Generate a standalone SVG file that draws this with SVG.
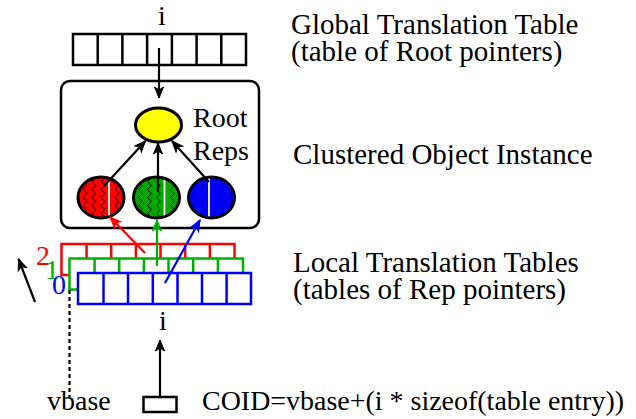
<svg xmlns="http://www.w3.org/2000/svg" width="636" height="419" viewBox="0 0 636 419">
<style>
text{font-family:"Liberation Serif","Times New Roman",serif;font-size:28px}
.lbl{font-size:29px}
.tbl{fill:#fff;stroke-width:2.5}
.k{stroke:#000}
.r{stroke:#ff0000}
.g{stroke:#00b000}
.b{stroke:#0000ff}
.div{stroke-width:2.5}
.ln{stroke-width:2.2;fill:none}
.node{stroke:#000;stroke-width:3}
.wl{stroke:#fff;stroke-width:1.8}
</style>
<defs>
<marker id="ak" markerUnits="userSpaceOnUse" markerWidth="14" markerHeight="12" viewBox="-12 -6 14 12" refX="0" refY="0" orient="auto"><path d="M0,0 L-11,-4.5 L-8,0 L-11,4.5 Z" fill="#000" stroke="#000" stroke-width="1"/></marker>
<marker id="ar" markerUnits="userSpaceOnUse" markerWidth="14" markerHeight="12" viewBox="-12 -6 14 12" refX="0" refY="0" orient="auto"><path d="M0,0 L-11,-4.5 L-8,0 L-11,4.5 Z" fill="#ff0000" stroke="#ff0000" stroke-width="1"/></marker>
<marker id="ag" markerUnits="userSpaceOnUse" markerWidth="14" markerHeight="12" viewBox="-12 -6 14 12" refX="0" refY="0" orient="auto"><path d="M0,0 L-11,-4.5 L-8,0 L-11,4.5 Z" fill="#00b000" stroke="#00b000" stroke-width="1"/></marker>
<marker id="ab" markerUnits="userSpaceOnUse" markerWidth="14" markerHeight="12" viewBox="-12 -6 14 12" refX="0" refY="0" orient="auto"><path d="M0,0 L-11,-4.5 L-8,0 L-11,4.5 Z" fill="#0000ff" stroke="#0000ff" stroke-width="1"/></marker>
<clipPath id="ec"><ellipse cx="0" cy="0" rx="23" ry="20"/></clipPath>
<path id="zig" fill="none" stroke="#000" stroke-width="0.9" d="M-1.8,-24 l3.6,4 l-3.6,4 l3.6,4 l-3.6,4 l3.6,4 l-3.6,4 l3.6,4 l-3.6,4 l3.6,4 l-3.6,4 l3.6,4 l-3.6,4"/>
</defs>

<g id="global-table">
<text x="162" y="25" text-anchor="middle">i</text>
<rect class="tbl k" x="73" y="34" width="173" height="31"/>
<path class="k div" d="M97.7,34V65M122.4,34V65M147.1,34V65M171.9,34V65M196.6,34V65M221.3,34V65"/>
</g>

<g id="clustered-object">
<rect x="61" y="81" width="198" height="147" rx="9" fill="#fff" stroke="#000" stroke-width="2.5"/>
</g>

<g id="root-rep">
<ellipse class="node" cx="158.5" cy="125" rx="23" ry="17" fill="#ffff00"/>
<text x="193" y="127">Root</text>
<text x="193" y="160">Reps</text>
</g>

<g id="rep-red" transform="translate(101,197.5)">
<ellipse cx="0" cy="0" rx="23" ry="20.5" fill="#ff0000"/>
<g clip-path="url(#ec)">
<use href="#zig" x="-16"/><use href="#zig" x="-7"/><use href="#zig" x="2"/><use href="#zig" x="16"/>
<line class="wl" x1="8" y1="-22" x2="8" y2="22"/>
</g>
<ellipse class="node" cx="0" cy="0" rx="23" ry="20.5" fill="none"/>
</g>

<g id="rep-green" transform="translate(156.5,197.5)">
<ellipse cx="0" cy="0" rx="23" ry="20.5" fill="#00a800"/>
<g clip-path="url(#ec)">
<use href="#zig" x="-16"/><use href="#zig" x="-7"/><use href="#zig" x="2"/><use href="#zig" x="16"/>
<line class="wl" x1="8" y1="-22" x2="8" y2="22"/>
</g>
<ellipse class="node" cx="0" cy="0" rx="23" ry="20.5" fill="none"/>
</g>

<g id="rep-blue" transform="translate(211.5,197.5)">
<ellipse cx="0" cy="0" rx="23" ry="20.5" fill="#0000ff"/>
<g clip-path="url(#ec)">
<use href="#zig" x="-17"/><use href="#zig" x="-9"/><use href="#zig" x="3"/><use href="#zig" x="11"/><use href="#zig" x="19"/>
<line class="wl" x1="-2.5" y1="-22" x2="-2.5" y2="22"/>
</g>
<ellipse class="node" cx="0" cy="0" rx="23" ry="20.5" fill="none"/>
</g>

<g id="local-table-2">
<rect class="tbl r" x="61.5" y="244" width="173" height="31"/>
<path class="r div" d="M86.6,244V275M111.2,244V275M135.9,244V275M160.5,244V275M185.2,244V275M209.9,244V275"/>
<text x="36" y="265" fill="#ff0000">2</text>
</g>

<g id="local-table-1">
<rect class="tbl g" x="69.5" y="258.5" width="173.5" height="31"/>
<path class="g div" d="M94.6,258.5V289.5M119.2,258.5V289.5M143.9,258.5V289.5M168.5,258.5V289.5M193.2,258.5V289.5M217.9,258.5V289.5"/>
<text x="45" y="279" fill="#00b000">1</text>
</g>

<g id="local-table-0">
<rect class="tbl b" x="78" y="273" width="173" height="31"/>
<path class="b div" d="M103.5,273V304M128,273V304M152.8,273V304M177.5,273V304M202,273V304M226.6,273V304"/>
<text x="52" y="294" fill="#0000ff">0</text>
<text x="163" y="330" text-anchor="middle">i</text>
</g>

<g id="coid">
<rect x="143.5" y="397" width="33" height="15" fill="#fff" stroke="#000" stroke-width="2.5"/>
<text x="202" y="410" textLength="422" lengthAdjust="spacingAndGlyphs">COID=vbase+(i * sizeof(table entry))</text>
</g>

<g id="vbase">
<text x="47" y="410">vbase</text>
</g>

<g id="labels">
<text class="lbl" x="291" y="33.5">Global Translation Table</text>
<text class="lbl" x="291" y="61">(table of Root pointers)</text>
<text class="lbl" x="293" y="164">Clustered Object Instance</text>
<text class="lbl" x="293" y="272">Local Translation Tables</text>
<text class="lbl" x="293" y="299">(tables of Rep pointers)</text>
</g>

<g id="connectors">
<line class="k ln" x1="159" y1="48" x2="159" y2="98" marker-end="url(#ak)"/>
<line class="k ln" x1="104" y1="186" x2="145.5" y2="141" marker-end="url(#ak)"/>
<line class="k ln" x1="158" y1="192" x2="158" y2="143" marker-end="url(#ak)"/>
<line class="k ln" x1="209" y1="182" x2="172" y2="141" marker-end="url(#ak)"/>
<line class="r ln" x1="145" y1="253" x2="110" y2="217" marker-end="url(#ar)"/>
<line class="g ln" x1="157" y1="266" x2="157" y2="220" marker-end="url(#ag)"/>
<line class="b ln" x1="165" y1="283" x2="200" y2="220" marker-end="url(#ab)"/>
<line class="k ln" x1="160" y1="397" x2="160" y2="340" marker-end="url(#ak)"/>
<line class="k ln" x1="35" y1="302" x2="18.5" y2="259" marker-end="url(#ak)"/>
<line class="k" x1="69.5" y1="290" x2="69.5" y2="397" stroke-width="2.2" stroke-dasharray="4 3"/>
</g>
</svg>
